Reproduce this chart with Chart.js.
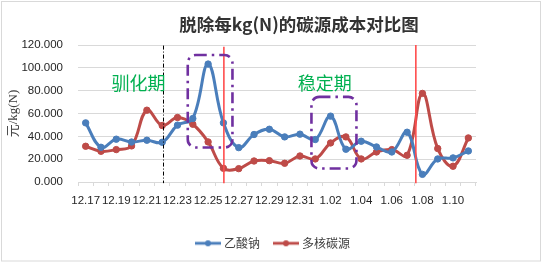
<!DOCTYPE html>
<html><head><meta charset="utf-8">
<script src="https://cdn.jsdelivr.net/npm/chart.js@4/dist/chart.umd.min.js"></script>
<style>html,body{margin:0;padding:0;background:#fff;}canvas{display:block;}</style>
</head><body>
<canvas id="c" width="544" height="265"></canvas>
<script>
// ---- data ----
const categories = ['12.17','12.18','12.19','12.20','12.21','12.22','12.23','12.24','12.25','12.26','12.27','12.28','12.29','12.30','12.31',
                    '1.01','1.02','1.03','1.04','1.05','1.06','1.07','1.08','1.09','1.10','1.11'];
const sodiumAcetate = [51.8,30.4,37.5,35.0,36.6,34.8,49.8,55.6,103.3,51.8,30.1,41.6,46.2,39.5,41.9,37.2,57.7,28.7,35.7,30.7,26.3,43.6,6.7,20.2,21.1,27.2];
const multiCarbon   = [31.3,26.9,28.4,31.6,62.9,49.5,56.5,50.6,35.1,12.0,11.7,18.4,18.7,16.4,22.8,20.2,34.2,39.5,20.2,26.3,28.4,23.4,77.6,29.3,13.8,38.6];
const seriesNames = ['乙酸钠','多核碳源'];
const yTickValues = [0,20,40,60,80,100,120];
const chartTitle = '脱除每kg(N)的碳源成本对比图';
const yAxisTitle = '元/kg(N)';

// ---- annotations (in data coordinates: category index / value) ----
const phaseLabels = ['驯化期','稳定期'];
const phaseLabelX = [3.46, 15.62];
const phaseLabelY = [86.5, 86.5];
const blackDividerX = [5.05];
const redDividerX = [9.03, 21.57];
const redDividerTop = [118.5, 120];
const boxLeft = [6.67, 14.75];
const boxRight = [9.59, 17.69];
const boxTop = [111.2, 74.6];
const boxBottom = [30.2, 11.8];

const BLUE = '#4a7ebb', RED = '#be4b48';

function legendSymbol(color){
  const c = document.createElement('canvas'); c.width = 26; c.height = 8;
  const g = c.getContext('2d');
  g.strokeStyle = color; g.lineWidth = 2.8;
  g.beginPath(); g.moveTo(0,4); g.lineTo(26,4); g.stroke();
  g.fillStyle = color; g.beginPath(); g.arc(13,4,3,0,Math.PI*2); g.fill();
  return c;
}
const legendSymbols = [legendSymbol(BLUE), legendSymbol(RED)];

function roundRectPath(ctx, x0, y0, x1, y1, r){
  ctx.beginPath();
  ctx.moveTo(x0 + r, y0);
  ctx.lineTo(x1 - r, y0); ctx.arcTo(x1, y0, x1, y0 + r, r);
  ctx.lineTo(x1, y1 - r); ctx.arcTo(x1, y1, x1 - r, y1, r);
  ctx.lineTo(x0 + r, y1); ctx.arcTo(x0, y1, x0, y1 - r, r);
  ctx.lineTo(x0, y0 + r); ctx.arcTo(x0, y0, x0 + r, y0, r);
  ctx.closePath();
}

const framePlugin = {
  id: 'frame',
  beforeDraw(chart){
    const ctx = chart.ctx;
    ctx.save();
    ctx.fillStyle = '#fff'; ctx.fillRect(0,0,chart.width,chart.height);
    ctx.strokeStyle = '#d9d9d9'; ctx.lineWidth = 1;
    ctx.strokeRect(1.5,1.5,539,259.5);
    ctx.restore();
  },
  afterLayout(chart){
    const t = chart.titleBlock;
    if (t) { const dx = 299 - (t.left + t.right)/2; t.left += dx; t.right += dx; }
    const lg = chart.legend;
    if (lg && lg.lineWidths) {
      const pad = lg.options.labels.padding;
      const x = (lg.left + pad + lg.right - lg.lineWidths[0]) / 2;
      const center = x + (lg.lineWidths[0] - pad - 3) / 2;
      const dx = 272.5 - center;
      const dy = (243.3 - pad - 6) - lg.top;
      lg.left += dx; lg.right += dx; lg.top += dy; lg.bottom += dy;
    }
  }
};

const annotPlugin = {
  id: 'annot',
  afterDatasetsDraw(chart){
    const {ctx, scales:{x, y}} = chart;
    ctx.save();
    // black dash-dot divider
    ctx.strokeStyle = '#000'; ctx.lineWidth = 1; ctx.setLineDash([4,2,1,2]);
    blackDividerX.forEach(v => {
      const px = Math.round(x.getPixelForValue(v)) + 0.5;
      ctx.beginPath(); ctx.moveTo(px, y.getPixelForValue(119.5)); ctx.lineTo(px, y.getPixelForValue(-1)); ctx.stroke();
    });
    // red dividers
    ctx.setLineDash([]); ctx.strokeStyle = '#ff4d4d'; ctx.lineWidth = 1.6;
    redDividerX.forEach((v,i) => {
      const px = x.getPixelForValue(v);
      ctx.beginPath(); ctx.moveTo(px, y.getPixelForValue(redDividerTop[i])); ctx.lineTo(px, y.getPixelForValue(-1.2)); ctx.stroke();
    });
    // purple dash-dot rounded boxes
    ctx.strokeStyle = '#7030a0'; ctx.lineWidth = 2.6; ctx.setLineDash([11,5,2.5,5]);
    boxLeft.forEach((v,i) => {
      roundRectPath(ctx, x.getPixelForValue(v), y.getPixelForValue(boxTop[i]),
                    x.getPixelForValue(boxRight[i]), y.getPixelForValue(boxBottom[i]), 8);
      ctx.stroke();
    });
    // phase labels
    ctx.setLineDash([]);
    ctx.fillStyle = '#00b050';
    ctx.font = '18px "Noto Sans CJK SC"';
    ctx.textAlign = 'center'; ctx.textBaseline = 'middle';
    phaseLabels.forEach((t,i) => {
      ctx.fillText(t, x.getPixelForValue(phaseLabelX[i]), y.getPixelForValue(phaseLabelY[i]));
    });
    ctx.restore();
  }
};

new Chart(document.getElementById('c'), {
  type: 'line',
  data: {
    labels: categories,
    datasets: [
      { label: seriesNames[0], data: sodiumAcetate, borderColor: BLUE, backgroundColor: BLUE,
        pointBackgroundColor: BLUE, pointBorderColor: BLUE, borderWidth: 3, pointRadius: 3.2, pointBorderWidth: 1, tension: 0.4 },
      { label: seriesNames[1], data: multiCarbon, borderColor: RED, backgroundColor: RED,
        pointBackgroundColor: RED, pointBorderColor: RED, borderWidth: 3, pointRadius: 3.2, pointBorderWidth: 1, tension: 0.4 }
    ]
  },
  options: {
    responsive: false, animation: false, devicePixelRatio: 1,
    layout: { padding: { top: 0, left: 6, right: 68, bottom: 11.2 } },
    plugins: {
      title: { display: true, text: chartTitle, color: '#333',
               font: { family: '"Noto Sans CJK SC", "Liberation Sans"', size: 17.5, weight: 'bold' },
               padding: { top: 14, bottom: 10 } },
      legend: { display: true, position: 'bottom',
        labels: { usePointStyle: true, pointStyleWidth: 20, padding: 16, color: '#404040',
          font: { family: '"Noto Sans CJK SC"', size: 12 },
          generateLabels(chart){
            const items = Chart.defaults.plugins.legend.labels.generateLabels(chart);
            items.forEach((it,i) => { it.pointStyle = legendSymbols[i]; });
            return items;
          } } },
      tooltip: { enabled: false }
    },
    scales: {
      x: {
        offset: true,
        grid: { display: true, offset: true, drawOnChartArea: false, drawTicks: true, tickLength: 4, color: '#d9d9d9' },
        border: { display: true, color: '#d9d9d9' },
        ticks: { autoSkip: false, maxRotation: 0, minRotation: 0, padding: 8, color: '#262626',
                 font: { family: '"Liberation Sans"', size: 11.5 },
                 callback: (v, i) => (i % 2 === 0 ? categories[i] : '') }
      },
      y: {
        min: 0, max: 120,
        afterFit: (s) => { s.width = 72; },
        afterBuildTicks: (s) => { s.ticks = yTickValues.map(v => ({ value: v })); },
        grid: { color: '#d9d9d9', drawTicks: false },
        border: { display: false },
        ticks: { padding: 15, color: '#262626', font: { family: '"Liberation Sans"', size: 11.5 },
                 callback: (v) => Number(v).toFixed(3) },
        title: { display: true, text: yAxisTitle, color: '#404040', padding: { top: 0, bottom: 0 },
                 font: { family: '"Liberation Serif", "Noto Sans CJK SC"', size: 13 } }
      }
    }
  },
  plugins: [framePlugin, annotPlugin]
});
</script>
</body></html>
